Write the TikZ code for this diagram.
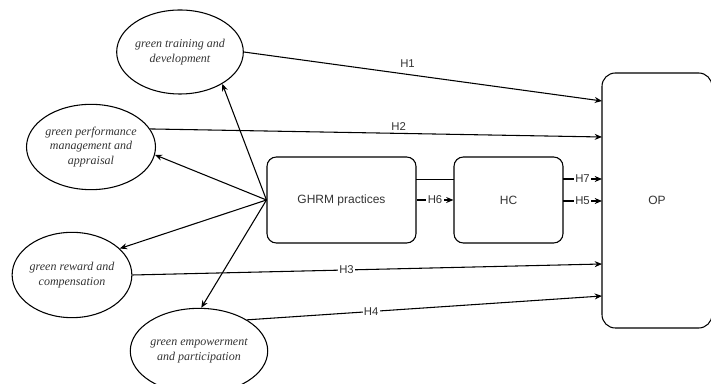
\documentclass[tikz,border=0pt]{standalone}
\usepackage{fontspec}
\setmainfont{Liberation Serif}
\setsansfont{Liberation Sans}
\usetikzlibrary{shapes.geometric,arrows.meta}
\definecolor{txt}{HTML}{333333}
\tikzset{
  gell/.style={draw, line width=0.8pt, ellipse, inner sep=0pt, align=center,
    font=\fontsize{9}{11.2}\selectfont\itshape, text=txt},
  rbox/.style={draw, line width=0.8pt, rounded corners=7pt, inner sep=0pt, align=center,
    font=\sffamily\fontsize{9}{11}\selectfont, text=txt},
  conn/.style={line width=0.8pt, -{Stealth[length=5.5pt,width=4.5pt]}},
  plain/.style={line width=0.7pt},
  hlab/.style={font=\sffamily\fontsize{8.5}{10}\selectfont, text=txt, inner sep=1pt},
  onl/.style={hlab, fill=white}
}
\begin{document}
\begin{tikzpicture}[x=0.75pt, y=-0.75pt]
\useasboundingbox (0,0) rectangle (711,384);
% ellipses
\node[gell, minimum width=90pt, minimum height=63pt] (e1) at (180,52) {green training and\\development};
\node[gell, minimum width=90pt, minimum height=64pt] (e2) at (91,147) {green performance\\management and\\appraisal};
\node[gell, minimum width=89pt, minimum height=64pt] (e3) at (72,275) {green reward and\\compensation};
\node[gell, minimum width=90pt, minimum height=64pt] (e4) at (199,351) {green empowerment\\and participation};
% boxes
\node[rbox, minimum width=111.75pt, minimum height=64.5pt] (ghrm) at (341.5,200) {GHRM practices};
\node[rbox, minimum width=81.75pt, minimum height=64.5pt] (hc) at (508.5,200) {HC};
\node[rbox, rounded corners=10pt, minimum width=82.5pt, minimum height=191.25pt] (op) at (657,200.5) {OP};
% target points on OP
\coordinate (t1) at (602,101);
\coordinate (t2) at (602,137);
\coordinate (t7) at (602,179);
\coordinate (t5) at (602,201);
\coordinate (t3) at (602,264);
\coordinate (t4) at (602,296);
\coordinate (hcA) at (454,179);
\coordinate (ghA) at (416,179);
\coordinate (hcB) at (563,179);
\coordinate (hcC) at (563,201);
% GHRM to dimensions
\draw[conn] (ghrm.west) -- (e1.-37);
\draw[conn] (ghrm.west) -- (e2.-7);
\draw[conn] (ghrm.west) -- (e3.29);
\draw[conn] (ghrm.west) -- (e4.87);
% dimensions to OP
\draw[conn] (e1.east) -- node[hlab, pos=0.457, above=4pt] {H1} (t1);
\draw[conn] (e2.17) -- node[hlab, pos=0.55, above=1pt] {H2} (t2);
\draw[conn] (e3.east) -- node[onl, pos=0.456] {H3} (t3);
\draw[conn] (e4.33) -- node[onl, pos=0.35] {H4} (t4);
% mediation
\draw[plain] (ghA) -- (hcA);
\draw[conn] (ghrm.east) -- node[onl] {H6} (hc.west);
\draw[conn] (hcB) -- node[onl] {H7} (t7);
\draw[conn] (hcC) -- node[onl] {H5} (t5);
\end{tikzpicture}
\end{document}
